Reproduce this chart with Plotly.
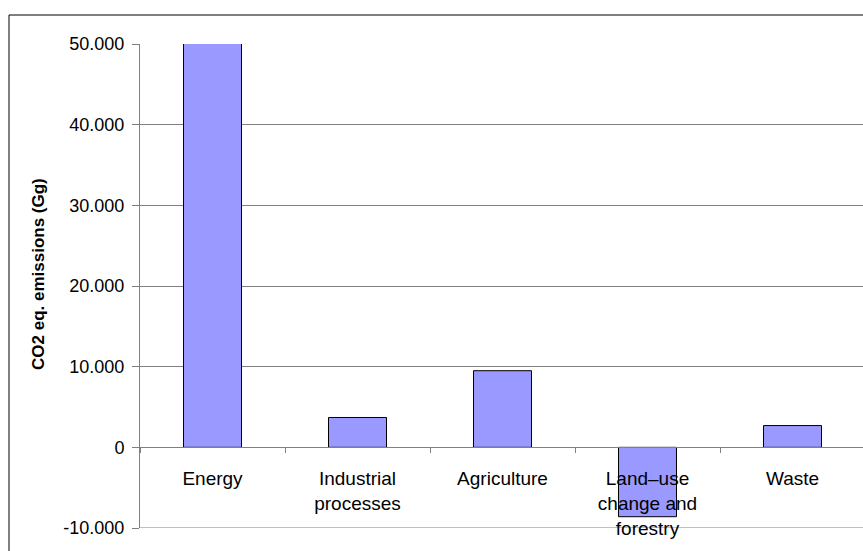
import plotly.graph_objects as go

# Greenhouse gas emissions by sector, CO2 equivalent (Gg)
sectors = ["Energy", "Industrial<br>processes", "Agriculture",
           "Land–use<br>change and<br>forestry", "Waste"]
emissions = [50800, 3700, 9500, -8600, 2700]

y_tick_values = [-10000, 0, 10000, 20000, 30000, 40000, 50000]
y_tick_labels = ["-10.000", "0", "10.000", "20.000", "30.000", "40.000", "50.000"]
y_title = "CO2 eq. emissions (Gg)"

FONT = "Liberation Sans, Arial, sans-serif"
GRID = "#808080"
W, H = 863, 551
ML, MT, MB, MR = 140, 44, 23, 0
y_min, y_max = -10000, 50000

fig = go.Figure(
    go.Bar(
        x=sectors,
        y=emissions,
        width=0.4,
        marker=dict(color="#9999FF", line=dict(color="#000000", width=1)),
    )
)

plot_w = W - ML - MR
plot_h = H - MT - MB

fig.update_layout(
    width=W,
    height=H,
    margin=dict(l=ML, r=MR, t=MT, b=MB, pad=0),
    paper_bgcolor="white",
    plot_bgcolor="white",
    showlegend=False,
    font=dict(family=FONT, size=18, color="#000000"),
    xaxis=dict(
        type="category",
        range=[-0.5, -0.5 + 5 * plot_w / 725],
        anchor="free",
        position=(0 - y_min) / (y_max - y_min),
        showline=True,
        linecolor=GRID,
        linewidth=1,
        ticks="outside",
        tickson="boundaries",
        ticklen=5,
        tickcolor=GRID,
        showgrid=False,
        tickfont=dict(family=FONT, size=19),
        ticklabelstandoff=14,
    ),
    yaxis=dict(
        range=[y_min, y_max],
        tickvals=y_tick_values,
        ticktext=y_tick_labels,
        showline=True,
        linecolor=GRID,
        linewidth=1,
        ticks="outside",
        ticklen=7,
        tickcolor=GRID,
        showgrid=True,
        gridcolor=GRID,
        gridwidth=1,
        zeroline=False,
        tickfont=dict(family=FONT, size=18),
        ticklabelstandoff=4,
    ),
    annotations=[
        dict(
            text="<b>" + y_title + "</b>",
            xref="paper",
            yref="paper",
            x=(38 - ML) / plot_w,
            y=(H - MB - 274) / plot_h,
            xanchor="center",
            yanchor="middle",
            textangle=-90,
            showarrow=False,
            font=dict(family=FONT, size=17),
        )
    ],
    shapes=[
        # outer chart border
        dict(
            type="rect",
            xref="paper",
            yref="paper",
            x0=(9 - ML) / plot_w,
            x1=(W + 5 - ML) / plot_w,
            y0=-(MB + 5) / plot_h,
            y1=(H - MB - 15) / plot_h,
            line=dict(color="#000000", width=1),
            fillcolor="rgba(0,0,0,0)",
            layer="below",
        ),
        # gridline along the lower edge of the value axis
        dict(
            type="line",
            xref="paper",
            yref="y",
            x0=0,
            x1=1,
            y0=y_min,
            y1=y_min,
            line=dict(color=GRID, width=1),
            layer="below",
        ),
    ],
)

fig.write_html("out.html")
